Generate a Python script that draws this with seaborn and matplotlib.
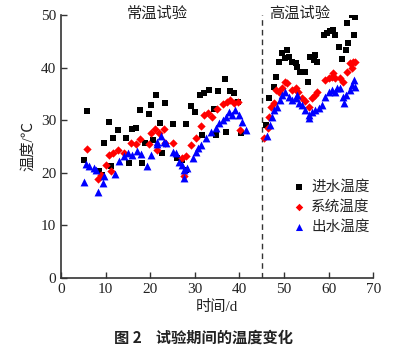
import matplotlib
matplotlib.use("Agg")
import matplotlib.pyplot as plt
import seaborn as sns
import pandas as pd

# ---- data ----
inlet_x = [5.2, 5.7, 8.6, 9.1, 9.7, 10.7, 11.2, 11.6, 12.8, 14.6, 15.3, 15.8, 16.8, 17.6, 18.1, 18.8,
           19.7, 20.1, 20.6, 21.3, 22.1, 22.7, 23.2, 25.2, 26.1, 27.2, 28.0, 28.1, 29.1, 30.0, 31.2,
           31.7, 32.1, 33.2, 34.2, 34.7, 35.2, 36.7, 36.9, 37.8, 38.8, 39.7, 40.3,
           45.9, 46.6, 47.7, 48.3, 48.8, 49.6, 50.3, 50.7, 51.1, 51.8, 52.6, 53.0, 53.5, 54.7, 55.4,
           55.9, 56.7, 57.0, 57.4, 58.9, 59.7, 60.4, 61.1, 61.5, 62.3, 63.0, 63.8, 64.1, 64.4, 65.3,
           65.6, 66.0]
inlet_y = [22.4, 31.7, 20.4, 19.6, 25.7, 29.7, 21.3, 26.6, 28.2, 26.6, 21.9, 28.4, 28.6, 31.9, 21.9, 25.6,
           31.2, 32.8, 26.2, 34.7, 29.4, 23.8, 33.2, 29.2, 22.8, 22.4, 20.6, 29.2, 32.7, 31.5, 34.8,
           27.2, 35.2, 35.7, 32.1, 27.2, 35.6, 37.8, 27.8, 35.6, 35.2, 33.4, 27.5,
           29.1, 34.2, 36.3, 38.3, 41.1, 42.7, 41.8, 43.3, 42.1, 41.1, 40.8, 40.2, 39.2, 39.2, 37.3,
           42.1, 41.4, 42.4, 41.1, 46.2, 46.5, 46.9, 47.1, 46.2, 43.9, 41.6, 43.3, 48.4, 44.6, 49.9,
           46.2, 49.6]

system_x = [5.7, 8.2, 9.0, 10.1, 10.7, 11.2, 11.7, 12.8, 14.2, 15.7, 16.8, 17.7, 19.8, 20.1, 21.1,
            21.6, 22.0, 23.1, 23.3, 25.1, 27.1, 27.6, 28.1, 29.1, 30.2, 31.3, 32.1, 33.0, 33.9, 35.0,
            36.2, 37.1, 37.9, 38.8, 39.7, 40.1,
            45.5, 46.3, 46.6, 47.0, 47.7, 48.1, 48.8, 49.6, 50.3, 50.7, 51.8, 52.6, 53.2, 54.1, 54.8,
            55.6, 56.3, 56.9, 57.4, 59.3, 60.0, 60.8, 60.9, 61.5, 62.6, 63.2, 64.1, 64.9, 65.3, 65.5,
            66.0]
system_y = [24.5, 18.8, 19.5, 21.5, 23.3, 20.3, 23.8, 24.3, 23.7, 25.7, 25.5, 26.4, 25.5, 27.5, 28.3,
            24.3, 27.5, 28.3, 25.6, 25.6, 22.8, 19.3, 23.1, 25.3, 26.6, 28.8, 30.9, 31.3, 30.7, 32.1,
            33.1, 33.5, 33.8, 33.2, 33.4, 28.1,
            26.6, 28.5, 30.7, 32.6, 33.2, 35.7, 35.4, 36.1, 37.3, 37.0, 35.7, 36.1, 35.4, 34.2, 33.6,
            32.6, 34.2, 34.8, 35.4, 37.6, 38.0, 38.3, 38.9, 38.0, 38.0, 37.3, 39.2, 40.8, 39.9, 41.1,
            41.1]

outlet_x = [5.2, 5.6, 6.3, 7.3, 7.8, 8.3, 9.3, 9.7, 12.1, 13.0, 14.0, 15.0, 16.0, 17.0, 18.0, 19.2,
            20.1, 21.5, 21.6, 22.4, 23.0, 23.5, 25.0, 25.7, 26.5, 27.2, 27.6, 27.6, 28.3, 29.5, 30.2,
            30.6, 31.3, 32.4, 33.6, 34.7, 35.4, 36.2, 36.9, 37.7, 38.4, 39.1, 39.9, 40.6, 41.4,
            46.2, 46.8, 47.4, 47.7, 48.5, 49.0, 49.6, 50.3, 51.1, 51.8, 52.6, 53.0, 53.3, 54.1, 54.8,
            55.6, 55.7, 56.3, 57.0, 57.8, 58.5, 59.3, 60.0, 60.8, 61.5, 61.9, 62.6, 63.2, 63.4, 63.8,
            64.9, 65.3, 65.6, 66.0]
outlet_y = [18.3, 21.7, 21.3, 20.9, 20.5, 16.4, 18.1, 19.3, 19.8, 22.2, 23.2, 23.8, 23.3, 24.1, 23.5, 21.2,
            23.4, 25.5, 25.9, 26.9, 25.9, 25.6, 24.0, 23.7, 22.1, 21.5, 20.5, 19.0, 20.9, 22.8, 24.0,
            24.7, 25.3, 26.6, 27.8, 28.5, 29.4, 30.0, 30.7, 31.6, 31.0, 31.9, 31.0, 29.7, 28.1,
            26.9, 29.1, 30.7, 31.9, 32.6, 33.8, 34.8, 35.4, 34.5, 33.8, 34.2, 34.8, 33.2, 32.9, 31.9,
            31.0, 30.4, 31.6, 31.9, 32.3, 32.9, 34.5, 35.4, 35.7, 35.4, 36.1, 36.1, 34.5, 33.2, 34.8,
            35.7, 36.6, 37.6, 36.4]

series_names = ["进水温度", "系统温度", "出水温度"]
x_ticks = [0, 10, 20, 30, 40, 50, 60, 70]
y_ticks = [0, 10, 20, 30, 40, 50]
split_day = 45
phase_labels = ["常温试验", "高温试验"]

df = pd.concat([
    pd.DataFrame({"t": inlet_x, "T": inlet_y, "s": series_names[0]}),
    pd.DataFrame({"t": system_x, "T": system_y, "s": series_names[1]}),
    pd.DataFrame({"t": outlet_x, "T": outlet_y, "s": series_names[2]}),
], ignore_index=True)

sns.set_style("ticks")
plt.rcParams["font.family"] = ["Liberation Serif", "Noto Sans CJK SC", "DejaVu Sans"]
plt.rcParams["axes.unicode_minus"] = False

fig = plt.figure(figsize=(4.16, 3.56), dpi=100)
ax = fig.add_axes([0.147, 0.219, 0.750, 0.739])

palette = {series_names[0]: "black", series_names[1]: "red", series_names[2]: "blue"}
markers = {series_names[0]: "s", series_names[1]: "D", series_names[2]: "^"}
sizes_map = {series_names[0]: 24, series_names[1]: 18, series_names[2]: 32}

for name in series_names:
    sub = df[df["s"] == name]
    sns.scatterplot(data=sub, x="t", y="T", color=palette[name], marker=markers[name],
                    s=sizes_map[name], linewidth=0, ax=ax, label=name, zorder=3)

ax.axvline(split_day, color="#333333", linestyle=(0, (4, 3)), linewidth=1.0, zorder=2)

ax.set_xlim(0, 70)
ax.set_ylim(0, 50)
ax.set_xticks(x_ticks)
ax.set_yticks(y_ticks)
ax.tick_params(direction="in", length=4, width=1, colors="#333333", labelsize=11, labelcolor="#222222")
for side in ["top", "right"]:
    ax.spines[side].set_visible(False)
for side in ["left", "bottom"]:
    ax.spines[side].set_color("#333333")
    ax.spines[side].set_linewidth(1.2)

ax.set_xlabel("时间/d", fontsize=11, color="#222222", labelpad=3)
ax.set_ylabel("温度/℃", fontsize=11, color="#222222", labelpad=4)

ax.text(21.5, 50.3, phase_labels[0], ha="center", va="center", fontsize=11, color="#222222")
ax.text(53.5, 50.3, phase_labels[1], ha="center", va="center", fontsize=11, color="#222222")

leg = ax.legend(loc="upper left", bbox_to_anchor=(0.72, 0.395), frameon=False, fontsize=10.5,
                handletextpad=0.35, labelspacing=0.42, borderaxespad=0, handlelength=1.0,
                markerscale=0.9)

fig.text(0.49, 0.052, "图 2    试验期间的温度变化", ha="center", va="center", fontsize=11,
         fontweight="bold", family=["Noto Sans CJK SC", "DejaVu Sans"], color="#222222")

fig.savefig("out.png", dpi=100)
